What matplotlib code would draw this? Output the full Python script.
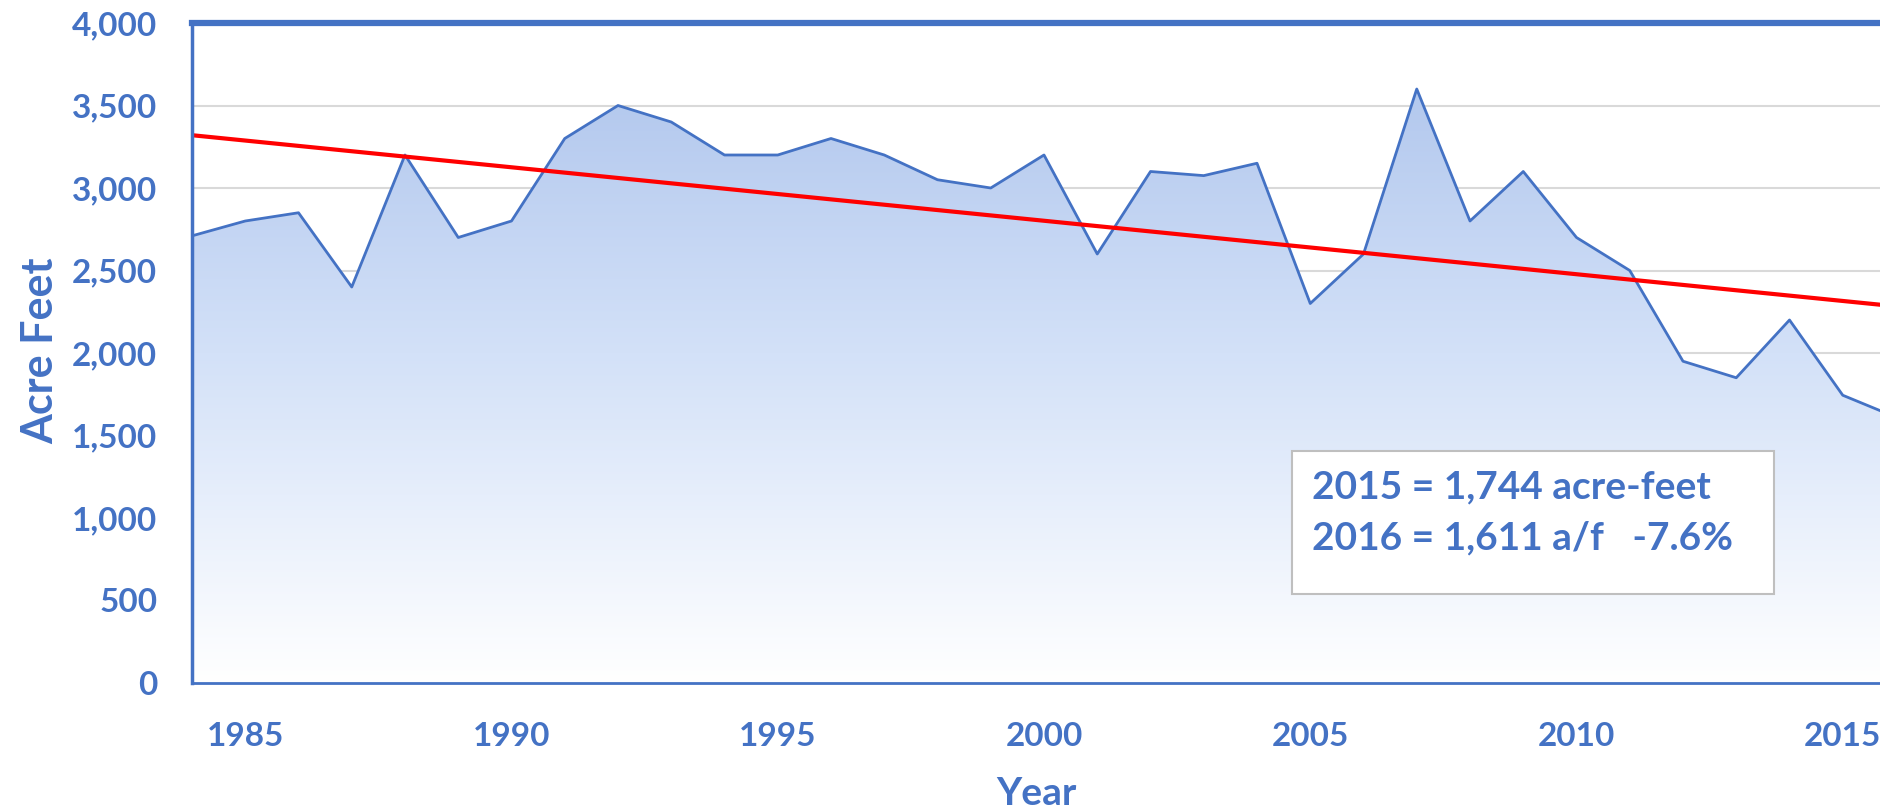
import numpy as np
import matplotlib
matplotlib.use("Agg")
import matplotlib.pyplot as plt
from matplotlib.colors import LinearSegmentedColormap
from matplotlib.patches import Polygon

years = list(range(1984, 2017))
acre_feet = [2710, 2800, 2850, 2400, 3200, 2700, 2800, 3300, 3500, 3400,
             3200, 3200, 3300, 3200, 3050, 3000, 3200, 2600, 3100, 3075,
             3150, 2300, 2600, 3600, 2800, 3100, 2700, 2500, 1950, 1850,
             2200, 1744, 1611]
trend_years = [1984, 2016]
trend_values = [3320, 2283]
x_ticks = [1985, 1990, 1995, 2000, 2005, 2010, 2015]
y_ticks = [0, 500, 1000, 1500, 2000, 2500, 3000, 3500, 4000]
note_lines = ["2015 = 1,744 acre-feet", "2016 = 1,611 a/f   -7.6%"]

BLUE = "#4472C4"
FONT = "Lato"

fig = plt.figure(figsize=(18.81, 8.06), dpi=100)
ax = fig.add_axes([192/1881, 1-683/806, 1-192/1881, (683-23)/806])

x = np.array(years, dtype=float)
y = np.array(acre_feet, dtype=float)

ax.set_xlim(1984, 1984 + (1881-192)/53.25)
ax.set_ylim(0, 4000)

# gradient fill
cmap = LinearSegmentedColormap.from_list("g", ["#ffffff", "#d3e1f8", "#abc2eb"])
grad = np.linspace(0, 1, 256).reshape(-1, 1)
im = ax.imshow(grad, extent=[1984, 2016, 0, 4000], origin="lower", aspect="auto",
               cmap=cmap, zorder=1)
poly = Polygon(np.column_stack([np.r_[x, x[-1], x[0]], np.r_[y, 0, 0]]),
               closed=True, facecolor="none", edgecolor="none", transform=ax.transData)
ax.add_patch(poly)
im.set_clip_path(poly)

ax.plot(x, y, color=BLUE, lw=2.0, zorder=3)

# trend line
ax.plot(trend_years, trend_values, color="#ff0000", lw=3.0, zorder=4)

ax.set_yticks(y_ticks)
ax.set_yticklabels([f"{v:,}" for v in y_ticks])
ax.set_xticks(x_ticks)
ax.set_xticklabels([str(v) for v in x_ticks])
ax.grid(axis="y", color="#d9d9d9", lw=1.5, zorder=0)
ax.set_axisbelow(True)
ax.tick_params(length=0, labelcolor=BLUE, labelsize=24)
ax.tick_params(axis="y", pad=25)
ax.tick_params(axis="x", pad=28)
for lab in ax.get_xticklabels() + ax.get_yticklabels():
    lab.set_fontfamily(FONT)
    lab.set_fontweight("bold")

ax.spines["right"].set_visible(False)
ax.spines["top"].set_color(BLUE)
ax.spines["top"].set_linewidth(4.5)
ax.spines["left"].set_color(BLUE)
ax.spines["left"].set_linewidth(2.5)
ax.spines["bottom"].set_color(BLUE)
ax.spines["bottom"].set_linewidth(2.0)
for s in ax.spines.values():
    s.set_zorder(6)

fig.text(40/1881, 1-351/806, "Acre Feet", color=BLUE, fontsize=31,
         fontweight="bold", fontfamily=FONT, rotation=90, ha="center", va="center")
ax.set_xlabel("Year", color=BLUE, fontsize=28, fontweight="bold",
              fontfamily=FONT, labelpad=18)

# note box
bx0, by0, bx1, by1 = 1292/1881, 1-594/806, 1774/1881, 1-451/806
box = plt.Rectangle((bx0, by0), bx1-bx0, by1-by0, transform=fig.transFigure,
                    facecolor="white", edgecolor="#bfbfbf", lw=1.5, zorder=10)
fig.patches.append(box)
fig.text(1312/1881, 1-487/806, note_lines[0], color=BLUE, fontsize=28,
         fontweight="bold", fontfamily=FONT, va="center", ha="left", zorder=11)
fig.text(1312/1881, 1-538/806, note_lines[1], color=BLUE, fontsize=28,
         fontweight="bold", fontfamily=FONT, va="center", ha="left", zorder=11)

fig.savefig("out.png", dpi=100)
